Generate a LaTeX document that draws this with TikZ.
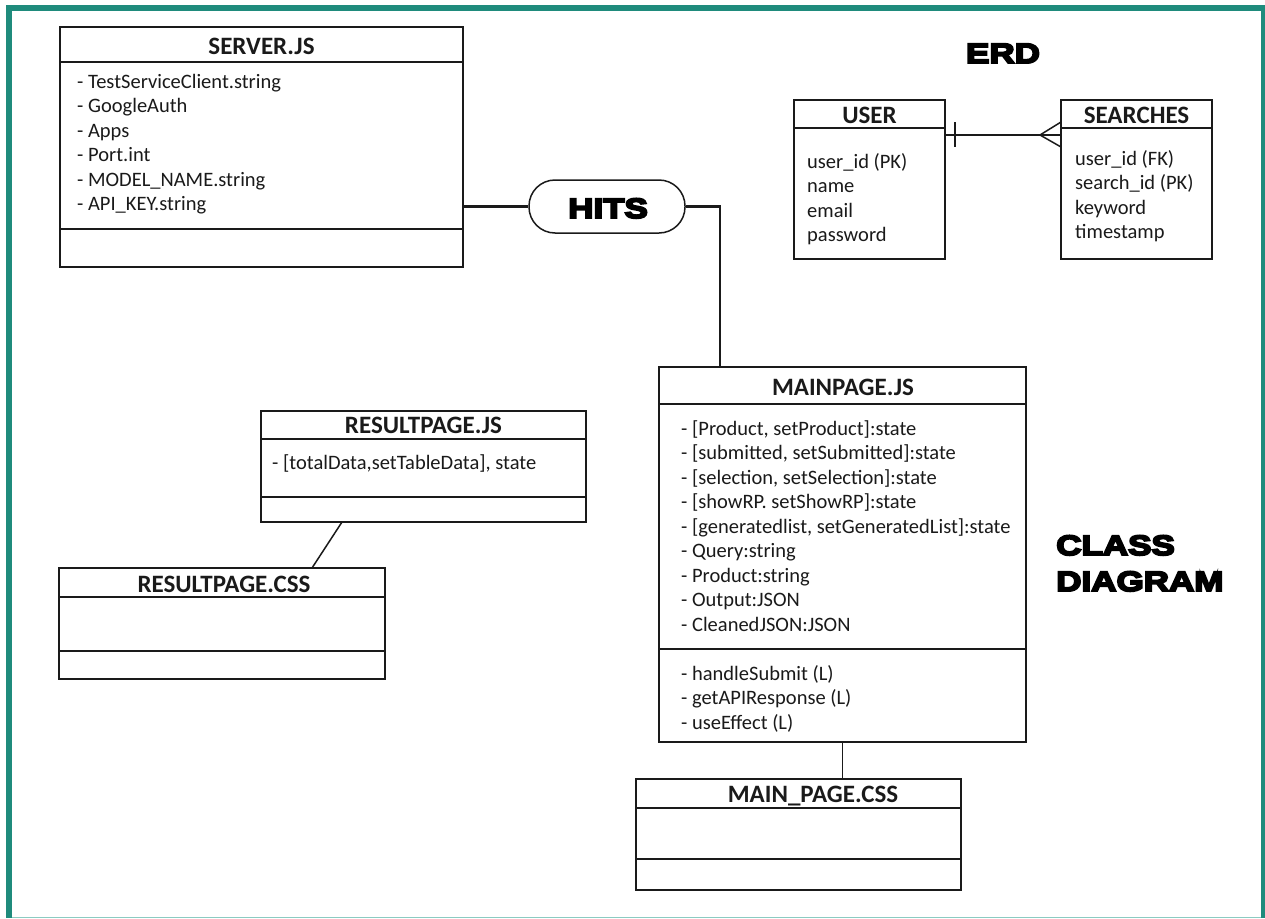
\documentclass[tikz,border=0pt]{standalone}
\usepackage{fontspec}
\setmainfont{Carlito}
\newfontfamily\heavyfont{Liberation Sans}[BoldFeatures={FakeBold=7,FakeStretch=1.25}]

\definecolor{frameteal}{HTML}{1F8B7C}
\definecolor{framelight}{HTML}{8CCBC2}
\definecolor{ink}{HTML}{1A1A1A}

% class box: name, x1, y1, x2, y2, header rule y
\newcommand\umlframe[6]{%
  \node[umlbox, minimum width={(#4-#2)*1pt}, minimum height={(#5-#3)*1pt}] (#1) at (#2,#3) {};
  \draw[boxrule] (#2,#6) -- (#4,#6);
}

\begin{document}
\begin{tikzpicture}[x=1pt,y=-1pt,
  boxrule/.style={draw=ink, line width=1.5pt},
  umlbox/.style={boxrule, fill=white, inner sep=0pt, outer sep=0pt, anchor=north west},
  ttl/.style={font=\bfseries\fontsize{25}{30}\selectfont, anchor=base, inner sep=0pt, text=ink},
  attr/.style={font=\fontsize{20.5}{24.5}\selectfont, anchor=base west, inner sep=0pt, text=ink},
  heavy/.style={font=\heavyfont\bfseries\fontsize{28}{32}\selectfont, inner sep=0pt, text=black},
  link/.style={draw=ink, line width=1.5pt},
  hitlink/.style={draw=ink, line width=2.5pt},
  pill/.style={draw=ink, line width=1.5pt, fill=white, rounded corners=26pt,
    minimum width=156pt, minimum height=53pt, inner sep=0pt},
]
\useasboundingbox (0,0) rectangle (1265,918);
\fill[white] (0,0) rectangle (1265,918);

% outer frame
\fill[frameteal] (6,5) rectangle (1265,11);
\fill[frameteal] (6,5) rectangle (12,918);
\fill[frameteal] (1261,5) rectangle (1265,918);
\fill[framelight] (12,916.5) rectangle (1261,918);

% ---------- class diagram ----------
\umlframe{server}{60}{27}{463}{267}{62}
\draw[boxrule] (60,229) -- (463,229);
\node[ttl] (server-t) at (261.5,54) {SERVER.JS};
\foreach \t [count=\i from 0] in {{- TestServiceClient.string},{- GoogleAuth},{- Apps},
  {- Port.int},{- MODEL\_NAME.string},{- API\_KEY.string}}
  \node[attr] (server-a\i) at (77,{88+24.5*\i}) {\t};

\umlframe{resultjs}{261}{411}{586}{522}{439}
\draw[boxrule] (261,497) -- (586,497);
\node[ttl] (resultjs-t) at (423.5,433) {RESULTPAGE.JS};
\node[attr] (resultjs-a0) at (272,469) {- [totalData,setTableData], state};

\umlframe{resultcss}{59}{568}{385}{679}{597}
\draw[boxrule] (59,651) -- (385,651);
\node[ttl] (resultcss-t) at (224,592) {RESULTPAGE.CSS};

\umlframe{mainpage}{659}{367}{1026}{742}{404}
\draw[boxrule] (659,649) -- (1026,649);
\node[ttl] (mainpage-t) at (843,395) {MAINPAGE.JS};
\foreach \t [count=\i from 0] in {{- [Product, setProduct]:state},{- [submitted, setSubmitted]:state},
  {- [selection, setSelection]:state},{- [showRP. setShowRP]:state},
  {- [generatedlist, setGeneratedList]:state},{- Query:string},{- Product:string},
  {- Output:JSON},{- CleanedJSON:JSON}}
  \node[attr] (mainpage-a\i) at (681,{435+24.5*\i}) {\t};
\foreach \t [count=\i from 0] in {{- handleSubmit (L)},{- getAPIResponse (L)},{- useEffect (L)}}
  \node[attr] (mainpage-m\i) at (681,{680+24.5*\i}) {\t};

\umlframe{maincss}{636}{779}{961}{890}{808}
\draw[boxrule] (636,859) -- (961,859);
\node[ttl] (maincss-t) at (813,802) {MAIN\_PAGE.CSS};

% HITS relation
\node[pill] (hits) at (607,206.5) {};
\node[heavy, anchor=base] (hits-t) at (608,218) {HITS};
\draw[hitlink] (hits.west -| server.east) -- (hits.west);
\draw[hitlink] (hits.east) -| ([xshift=-122.5pt]mainpage.north);

% file dependencies
\draw[link] ([xshift=-81.5pt]resultjs.south) -- ([xshift=90pt]resultcss.north);
\draw[link] (mainpage.south) -- (mainpage.south |- maincss.north);

\node[heavy, anchor=base west] (class-l1) at (1056,555) {CLASS};
\node[heavy, anchor=base west] (class-l2) at (1056,591) {DIAGRAM};

% ---------- ERD ----------
\node[heavy, anchor=base] (erd-t) at (1003,63) {ERD};

\umlframe{user}{794}{100}{945}{259}{128}
\node[ttl] (user-t) at (869.5,123) {USER};
\foreach \t [count=\i from 0] in {{user\_id (PK)},{name},{email},{password}}
  \node[attr] (user-a\i) at (807,{168+24.5*\i}) {\t};

\umlframe{searches}{1061}{100}{1212}{259}{128}
\node[ttl] (searches-t) at (1136.5,123) {SEARCHES};
\foreach \t [count=\i from 0] in {{user\_id (FK)},{search\_id (PK)},{keyword},{timestamp}}
  \node[attr] (searches-a\i) at (1075,{165+24.5*\i}) {\t};

% one user -- many searches
\draw[link] ([yshift=-35pt]user.north east) -- ([yshift=-35pt]searches.north west);
\draw[link] ([shift={(10,22)}]user.north east) -- ([shift={(10,47)}]user.north east);
\draw[link] ([shift={(0,22)}]searches.north west) -- ([shift={(-21,35)}]searches.north west)
  -- ([shift={(0,47)}]searches.north west);
\end{tikzpicture}
\end{document}
